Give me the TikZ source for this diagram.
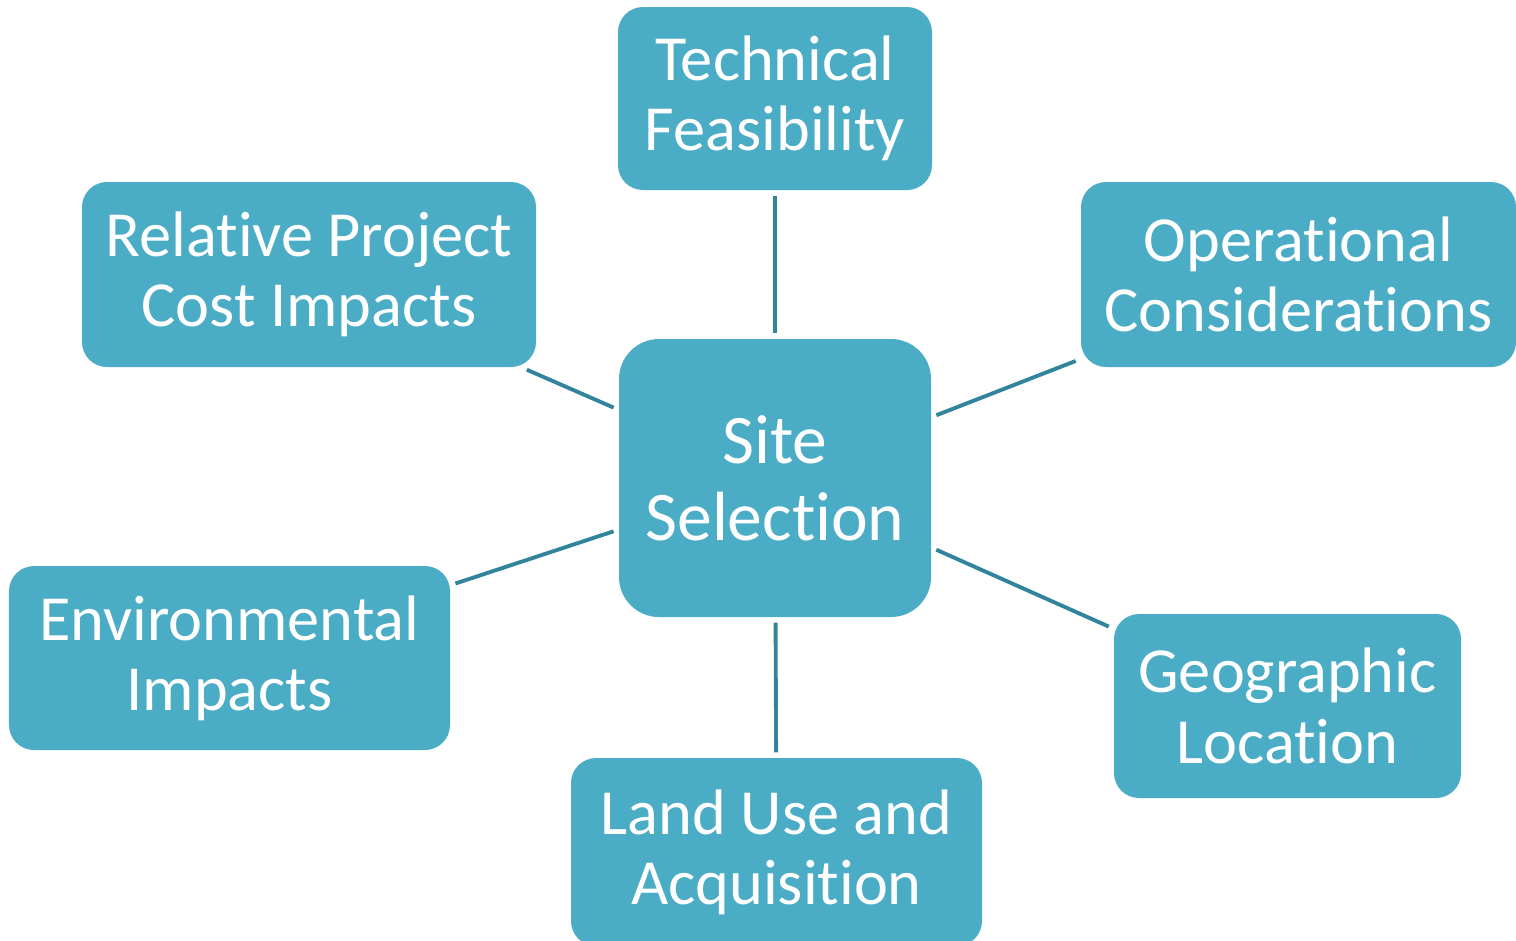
\documentclass[tikz,border=0pt]{standalone}
\usepackage{fontspec}
\setmainfont{Carlito}[Ligatures=NoCommon]
\usetikzlibrary{positioning}
\definecolor{boxblue}{HTML}{4BACC6}
\definecolor{linkteal}{HTML}{31849B}
\tikzset{
  topic/.style={fill=boxblue, text=white, rounded corners=0.25cm, align=center, inner sep=0pt, font=\fontsize{18.3}{20}\selectfont},
  link/.style={draw=linkteal, line width=1.1pt, shorten <=0.05cm, shorten >=0.05cm}
}

\begin{document}
\begin{tikzpicture}
\useasboundingbox (0,0) rectangle (15.16,-9.40);
\node[topic, minimum width=3.12cm, minimum height=2.78cm, rounded corners=0.4cm, font=\fontsize{19.8}{22}\selectfont] (site) at (7.75,-4.78) {Site\\Selection};
\node[topic, minimum width=3.14cm, minimum height=1.83cm] (tech) at (7.75,-0.985) {Technical\\Feasibility};
\node[topic, minimum width=4.54cm, minimum height=1.85cm] (cost) at (3.09,-2.745) {Relative Project\\Cost Impacts};
\node[topic, minimum width=4.35cm, minimum height=1.85cm] (oper) at (12.985,-2.745) {Operational\\Considerations};
\node[topic, minimum width=4.41cm, minimum height=1.84cm] (env) at (2.295,-6.58) {Environmental\\Impacts};
\node[topic, minimum width=3.47cm, minimum height=1.84cm] (geo) at (12.875,-7.06) {Geographic\\Location};
\node[topic, minimum width=4.11cm, minimum height=1.88cm] (land) at (7.765,-8.52) {Land Use and\\Acquisition};
\draw[link] (site) -- (tech);
\draw[link] (site) -- (cost);
\draw[link] (site) -- (oper);
\draw[link] (site) -- (env);
\draw[link] (site) -- (geo);
\draw[link] (site) -- (land);
\end{tikzpicture}
\end{document}
